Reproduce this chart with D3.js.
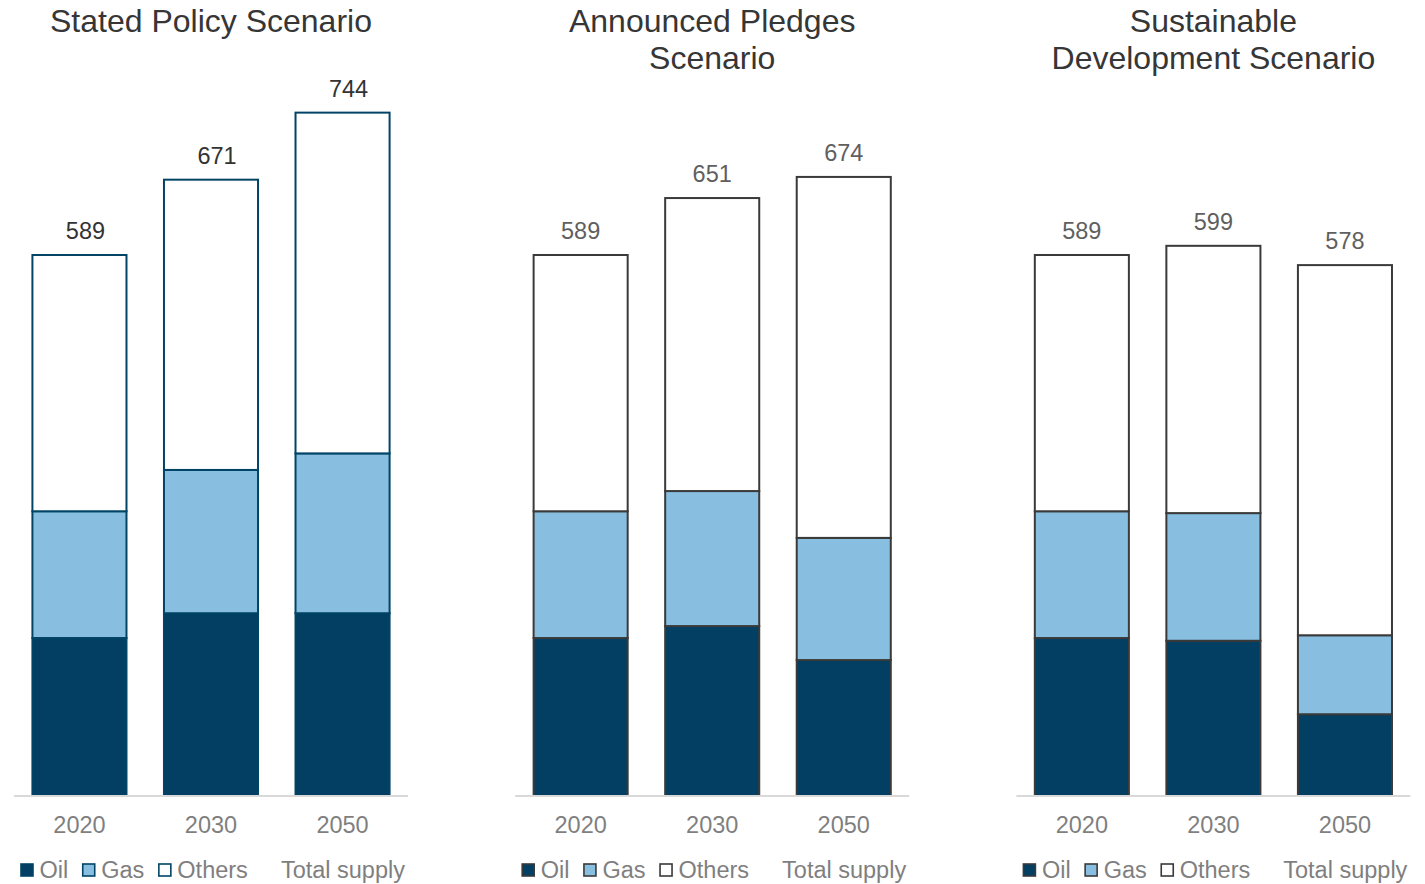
<!DOCTYPE html>
<html>
<head>
<meta charset="utf-8">
<script src="https://cdn.jsdelivr.net/npm/d3@7"></script>
<style>
  html, body { margin: 0; padding: 0; background: #fff; }
  svg { display: block; font-family: "Liberation Sans", Arial, sans-serif; }
</style>
</head>
<body>
<svg id="chart" width="1425" height="884"></svg>
<script>
// Oil supply by scenario (stacked: oil, gas, others; label = total supply)
const years = ["2020", "2030", "2050"];
const scenarios = [
  ["Stated Policy Scenario"],
  ["Announced Pledges", "Scenario"],
  ["Sustainable", "Development Scenario"]
];
const oil    = [[172, 199, 199], [172, 185, 148], [172, 169, 89]];
const gas    = [[138, 156, 174], [138, 147, 133], [138, 139, 86]];
const others = [[279, 316, 371], [279, 319, 393], [279, 291, 403]];
const totals = [[589, 671, 744], [589, 651, 674], [589, 599, 578]];
const seriesNames = ["Oil", "Gas", "Others", "Total supply"];

const svg = d3.select("#chart");
const fills = { Oil: "#023f62", Gas: "#88bfe0", Others: "#ffffff" };
const strokes = ["#024466", "#3a3a3a", "#3a3a3a"];
const labelColors = ["#333333", "#5f5f5f", "#5f5f5f"];
const labelShift = [6, 0, 0];

const panelWidth = 394, panelStep = 501.2, panelLeft = 14;
const baseY = 796;
const y = d3.scaleLinear().domain([0, 800]).range([baseY, baseY - 800 * (541 / 589)]);

scenarios.forEach((title, p) => {
  const x0 = panelLeft + p * panelStep;
  const g = svg.append("g");
  const x = d3.scaleBand().domain(years)
    .range([x0, x0 + panelWidth])
    .paddingInner(0.285).paddingOuter(0.14);

  // title
  const t = g.append("text")
    .attr("x", x0 + panelWidth / 2).attr("y", 32)
    .attr("text-anchor", "middle")
    .attr("fill", "#363636")
    .style("font-size", "32px");
  title.forEach((line, i) => {
    t.append("tspan").attr("x", x0 + panelWidth / 2).attr("dy", i === 0 ? 0 : 37).text(line);
  });

  // stacked bars
  const rows = years.map((yr, i) => ({ year: yr, Oil: oil[p][i], Gas: gas[p][i], Others: others[p][i] }));
  const stack = d3.stack().keys(["Oil", "Gas", "Others"])(rows);
  stack.forEach(layer => {
    g.append("g").selectAll("rect").data(layer).join("rect")
      .attr("x", d => x(d.data.year))
      .attr("width", x.bandwidth())
      .attr("y", d => y(d[1]))
      .attr("height", d => y(d[0]) - y(d[1]))
      .attr("fill", fills[layer.key])
      .attr("stroke", strokes[p])
      .attr("stroke-width", 2);
  });

  // axis baseline and year ticks
  const axis = d3.axisBottom(x).tickSize(0).tickPadding(20);
  const ag = g.append("g").attr("transform", `translate(0,${baseY})`).call(axis);
  ag.select(".domain").attr("stroke", "#d9d9d9").attr("stroke-width", 2)
    .attr("d", `M${x0},0H${x0 + panelWidth}`);
  ag.selectAll("text").attr("fill", "#7f7f7f").style("font-size", "23.5px")
    .style("font-family", "'Liberation Sans', Arial, sans-serif");

  // total labels
  g.append("g").selectAll("text").data(years).join("text")
    .attr("x", d => x(d) + x.bandwidth() / 2 + labelShift[p])
    .attr("y", (d, i) => y(totals[p][i]) - 16)
    .attr("text-anchor", "middle")
    .attr("fill", labelColors[p])
    .style("font-size", "23.5px")
    .text((d, i) => totals[p][i]);

  // legend
  let lx = x0 + 7;
  const ly = 878;
  seriesNames.forEach(name => {
    const isTotal = name === "Total supply";
    if (!isTotal) {
      g.append("rect").attr("x", lx).attr("y", ly - 14).attr("width", 12).attr("height", 12)
        .attr("fill", fills[name]).attr("stroke", strokes[p]).attr("stroke-width", 1.6);
    }
    const txt = g.append("text").attr("x", lx + 18.5).attr("y", ly)
      .attr("fill", "#7f7f7f").style("font-size", "23.5px").text(name);
    lx += 18.5 + txt.node().getComputedTextLength() + 14.5;
  });
});
</script>
</body>
</html>
